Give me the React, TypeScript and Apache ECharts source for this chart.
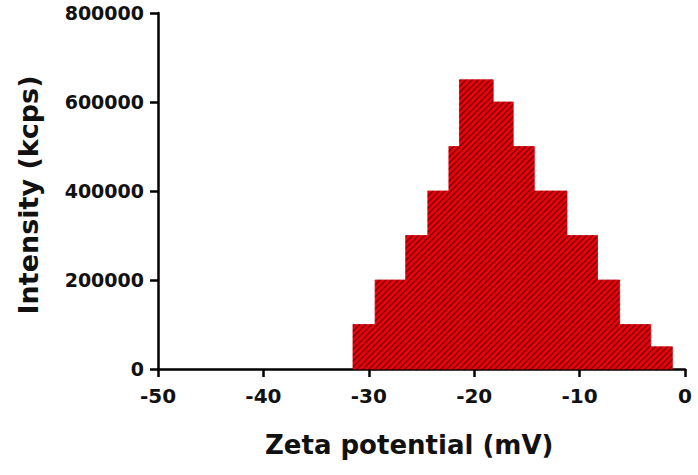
import React, { useEffect, useRef } from "react";
import * as echarts from "echarts";

// Histogram steps (mV) and intensity (kcps)
const binStart = [-31.5, -29.4, -26.5, -24.4, -22.4, -21.4, -18.2, -16.3, -14.3, -11.2, -8.3, -6.2, -3.25];
const binEnd = [-29.4, -26.5, -24.4, -22.4, -21.4, -18.2, -16.3, -14.3, -11.2, -8.3, -6.2, -3.25, -1.2];
const intensity = [100000, 200000, 300000, 400000, 500000, 650000, 600000, 500000, 400000, 300000, 200000, 100000, 50000];

const xTicks = [-50, -40, -30, -20, -10, 0];
const yTicks = [0, 200000, 400000, 600000, 800000];

const FONT = "DejaVu Sans";

function makeHatch() {
  const size = 6;
  const c = document.createElement("canvas");
  c.width = size;
  c.height = size;
  const ctx = c.getContext("2d")!;
  ctx.fillStyle = "#e8000a";
  ctx.fillRect(0, 0, size, size);
  ctx.strokeStyle = "#780005";
  ctx.lineWidth = 1.4;
  ctx.beginPath();
  ctx.moveTo(-1, size + 1);
  ctx.lineTo(size + 1, -1);
  ctx.moveTo(-1, 1);
  ctx.lineTo(1, -1);
  ctx.moveTo(size - 1, size + 1);
  ctx.lineTo(size + 1, size - 1);
  ctx.stroke();
  return { image: c, repeat: "repeat", imageWidth: size, imageHeight: size };
}

export default function App() {
  const ref = useRef<HTMLDivElement>(null);
  useEffect(() => {
    if (!ref.current) return;
    const chart = echarts.init(ref.current, null, { renderer: "svg" });
    const hatch = makeHatch();
    const data = binStart.map((s, i) => [s, binEnd[i], intensity[i]]);
    chart.setOption({
      animation: false,
      backgroundColor: "#ffffff",
      grid: { left: 158, right: 13, top: 13, bottom: 106, containLabel: false },
      xAxis: {
        type: "value",
        min: xTicks[0],
        max: xTicks[xTicks.length - 1],
        interval: 10,
        splitLine: { show: false },
        axisLine: { show: true, onZero: false, lineStyle: { color: "#000", width: 2.5 } },
        axisTick: { show: true, inside: false, length: 8, lineStyle: { color: "#000", width: 2.5 } },
        axisLabel: {
          margin: 17,
          color: "#111",
          fontFamily: FONT,
          fontWeight: "bold",
          fontSize: 20,
          formatter: (v: number) => String(v),
        },
      },
      yAxis: {
        type: "value",
        min: yTicks[0],
        max: yTicks[yTicks.length - 1],
        interval: 200000,
        splitLine: { show: false },
        axisLine: { show: true, onZero: false, lineStyle: { color: "#000", width: 2.5 } },
        axisTick: { show: true, inside: false, length: 8, lineStyle: { color: "#000", width: 2.5 } },
        axisLabel: {
          margin: 14,
          color: "#111",
          fontFamily: FONT,
          fontWeight: "bold",
          fontSize: 19,
          formatter: (v: number) => String(v),
        },
      },
      graphic: [
        {
          type: "text",
          left: 265,
          top: 432,
          style: {
            text: "Zeta potential (mV)",
            fontFamily: FONT,
            fontWeight: "bold",
            fontSize: 26,
            fill: "#111",
          },
        },
        {
          type: "text",
          x: 28,
          y: 195,
          rotation: Math.PI / 2,
          style: {
            text: "Intensity (kcps)",
            fontFamily: FONT,
            fontWeight: "bold",
            fontSize: 27,
            fill: "#111",
            align: "center",
            verticalAlign: "middle",
          },
        },
      ],
      series: [
        {
          type: "custom",
          encode: { x: [0, 1], y: 2 },
          data,
          renderItem: (params: any, api: any) => {
            const s = api.value(0);
            const e = api.value(1);
            const v = api.value(2);
            const p0 = api.coord([s, v]);
            const p1 = api.coord([e, 0]);
            return {
              type: "rect",
              shape: { x: p0[0], y: p0[1], width: p1[0] - p0[0], height: p1[1] - p0[1] },
              style: { fill: hatch, stroke: hatch, lineWidth: 0.8 },
            };
          },
          z: 1,
        },
      ],
    });
    return () => chart.dispose();
  }, []);
  return (
    <div
      ref={ref}
      style={{ position: "fixed", left: 0, top: 0, width: 698, height: 475 }}
    />
  );
}
